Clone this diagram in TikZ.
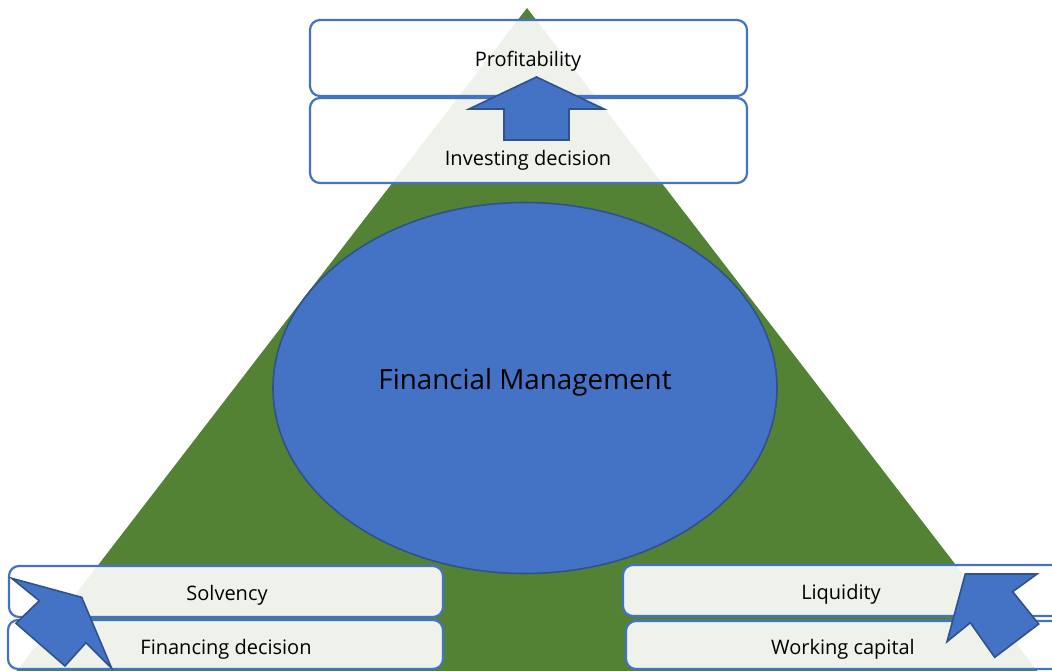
\documentclass[tikz,border=0pt]{standalone}
\usepackage{fontspec}
\setmainfont{Open Sans}
\definecolor{trigreen}{HTML}{548235}
\definecolor{fmblue}{HTML}{4472C4}
\definecolor{fmdark}{HTML}{2F528F}
\begin{document}
\begin{tikzpicture}[x=1pt,y=-1pt,
  box/.style={draw=fmblue, line width=2.2pt, rounded corners=10pt, fill=white, fill opacity=0.9},
  lbl/.style={font=\fontsize{20}{23}\selectfont, text=black, inner sep=0pt, anchor=base},
  bigarrow/.style={fill=fmblue, draw=fmdark, line width=1.6pt, line join=miter},
  pyramid/.style={fill=trigreen, draw=none},
  core/.style={fill=fmblue, draw=fmdark, line width=1.6pt}
]
\useasboundingbox (0,0) rectangle (1052,670);
\clip (0,0) rectangle (1052,670);
% pyramid
\coordinate (apex) at (527,8);
\coordinate (bl) at (-25,725);
\coordinate (br) at (1079,725);
\fill[pyramid] (apex) -- (br) -- (bl) -- cycle;
% central ellipse
\draw[core] (525,388) ellipse [x radius=252, y radius=185.5];
\node[font=\fontsize{27.8}{32}\selectfont, inner sep=0pt, anchor=base] (fm) at (525,389) {Financial Management};
% top boxes
\path[box] (310,20) rectangle (747,96);
\node[lbl] (prof) at (528,66) {Profitability};
\path[box] (310,98) rectangle (747,183);
\node[lbl] (inv) at (528,165) {Investing decision};
% bottom left boxes
\path[box] (9,566) rectangle (443,617);
\node[lbl] (solv) at (227,600) {Solvency};
\path[box] (8,620) rectangle (443,669);
\node[lbl] (fin) at (226,654) {Financing decision};
% bottom right boxes
\path[box] (623,565) rectangle (1075,616);
\node[lbl] (liq) at (841,599) {Liquidity};
\path[box] (626,621) rectangle (1075,669);
\node[lbl] (wc) at (843,654) {Working capital};
% block arrows
\draw[bigarrow] (536.5,77) -- (604,109) -- (569,109) -- (569,140) -- (504,140) -- (504,109) -- (469,109) -- cycle;
\draw[bigarrow] (11.7,578.3) -- (81.7,597.3) -- (111.7,668.3) -- (86,642.7) -- (65,666) -- (16,623.3) -- (39.3,600.7) -- cycle;
\draw[bigarrow] (965.3,574) -- (1037,574) -- (1012.7,591.7) -- (1038.7,624) -- (994.7,657.3) -- (970.3,622.7) -- (947,641.7) -- cycle;
\end{tikzpicture}
\end{document}
